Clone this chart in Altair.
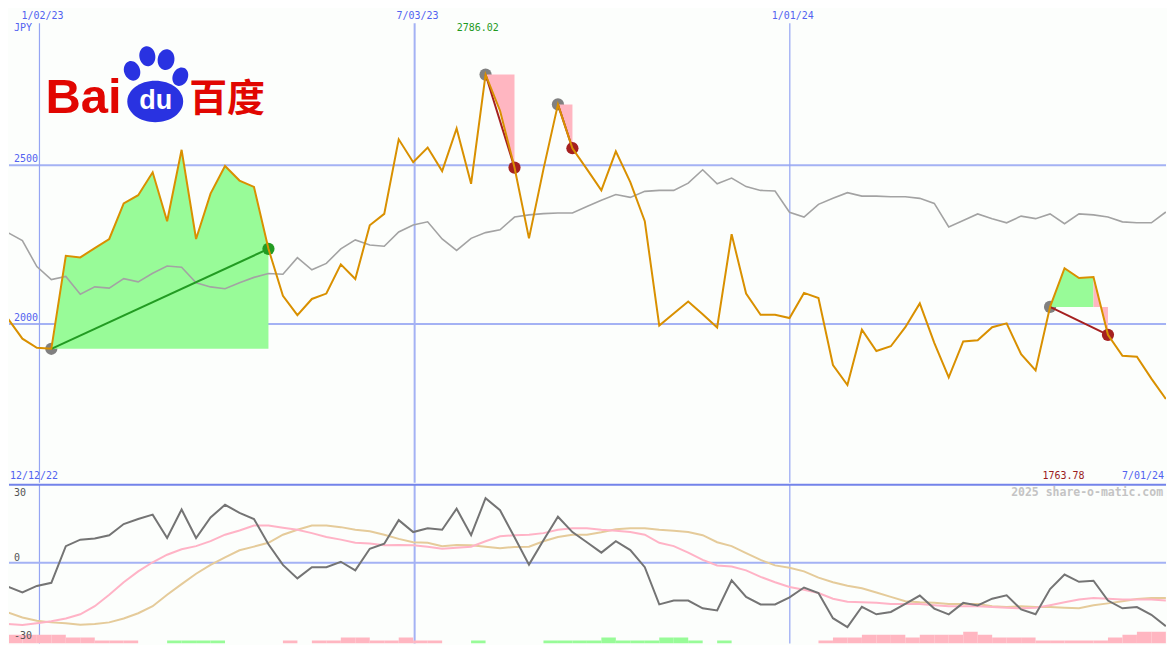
import altair as alt
import pandas as pd

# ---------------- values ----------------
PRICE = [2017, 1954, 1925, 1922, 2215, 2210, 2239, 2268, 2380, 2406,
         2478, 2324, 2549, 2268, 2411, 2498, 2452, 2432, 2237, 2089,
         2028, 2079, 2096, 2188, 2142, 2311, 2347, 2582, 2510, 2556,
         2482, 2616, 2442, 2786.02, 2672, 2493, 2270, 2488, 2692, 2554,
         2488, 2421, 2544, 2447, 2324, 1995, 2033, 2071, 2031, 1989,
         2283, 2096, 2029, 2029, 2019, 2098, 2082, 1871, 1808, 1982,
         1915, 1930, 1990, 2065, 1941, 1832, 1945, 1949, 1990, 2002,
         1905, 1854, 2054, 2176, 2145, 2148, 1966, 1900, 1897, 1828,
         1763.78]

COMPARE = [2288, 2263, 2181, 2140, 2150, 2094, 2117, 2113, 2143, 2133,
           2160, 2183, 2179, 2130, 2117, 2111, 2130, 2147, 2159, 2157,
           2209, 2171, 2191, 2237, 2265, 2249, 2245, 2290, 2312, 2322,
           2268, 2232, 2270, 2288, 2297, 2337, 2344, 2348, 2350, 2350,
           2370, 2390, 2408, 2399, 2418, 2421, 2421, 2444, 2486, 2442,
           2460, 2433, 2421, 2419, 2352, 2337, 2377, 2396, 2414, 2403,
           2403, 2401, 2401, 2396, 2380, 2306, 2326, 2347, 2332, 2319,
           2340, 2332, 2347, 2316, 2347, 2344, 2337, 2322, 2319, 2319,
           2353]

OSC = [-9.2, -11.4, -8.9, -7.7, 6.4, 8.9, 9.3, 10.6, 14.9, 16.8,
       18.5, 9.5, 20.5, 9.5, 17.4, 22.3, 19.2, 16.8, 7.1, -0.8,
       -6.0, -1.7, -1.7, 0.4, -2.9, 5.4, 7.3, 16.4, 11.8, 13.3,
       12.7, 20.8, 10.6, 24.8, 20.2, 9.8, -0.7, 8.7, 17.7, 11.8,
       7.9, 3.9, 8.3, 4.9, -1.7, -16.0, -14.5, -14.5, -17.5, -18.3,
       -6.7, -13.1, -16.0, -16.0, -13.3, -9.5, -11.6, -21.3, -24.7, -16.9,
       -19.8, -18.9, -15.8, -12.6, -17.6, -19.8, -15.4, -16.4, -13.8, -12.5,
       -17.9, -19.8, -10.1, -4.5, -7.3, -6.9, -14.5, -17.5, -17.0, -20.0,
       -24.4]

OSC_FAST = [-23.5, -23.9, -23.2, -22.5, -21.4, -19.8, -16.7, -12.3, -7.5, -3.3,
            0.2, 3.1, 5.2, 6.4, 8.3, 10.8, 12.4, 14.3, 14.3, 13.5,
            12.7, 11.4, 9.9, 8.9, 7.7, 7.4, 6.7, 6.8, 6.7, 6.2,
            5.4, 5.8, 6.2, 8.3, 10.2, 10.6, 10.8, 11.4, 12.7, 13.3,
            13.3, 12.7, 12.3, 11.8, 10.8, 7.7, 6.4, 3.9, 1.1, -1.0,
            -1.4, -2.9, -5.4, -7.5, -9.3, -10.4, -11.6, -13.8, -15.0, -15.2,
            -15.4, -15.8, -15.8, -15.8, -16.3, -16.7, -16.7, -16.7, -17.0, -17.3,
            -17.5, -17.3, -16.3, -15.2, -14.1, -13.5, -13.8, -14.1, -14.1, -14.1,
            -14.5]

OSC_SLOW = [-19.1, -21.0, -22.3, -22.9, -23.2, -23.8, -23.5, -22.9, -21.4, -19.4,
            -16.7, -12.3, -8.2, -4.2, -0.8, 2.1, 4.8, 6.2, 7.7, 10.8,
            12.7, 14.3, 14.3, 13.7, 12.7, 12.1, 10.8, 9.2, 7.9, 7.7,
            6.4, 6.8, 6.7, 6.2, 5.6, 6.1, 6.2, 8.3, 9.9, 10.8,
            10.8, 11.7, 12.9, 13.3, 13.3, 12.7, 12.3, 11.8, 10.6, 7.9,
            6.4, 3.7, 1.1, -1.0, -1.9, -3.3, -5.7, -7.5, -8.8, -9.8,
            -11.4, -13.1, -14.8, -15.2, -15.4, -15.8, -15.8, -15.8, -16.7, -17.0,
            -16.7, -17.0, -17.0, -17.3, -17.5, -16.3, -15.6, -14.8, -13.9, -13.5,
            -13.5]

SIGNAL = [-3, -3, -3, -3, -2, -2, -1, -1, -1, 0,
          0, 1, 1, 1, 1, 0, 0, 0, 0, -1,
          0, -1, -1, -2, -2, -1, -1, -2, -1, -1,
          0, 0, 1, 0, 0, 0, 0, 1, 1, 1,
          1, 2, 1, 1, 1, 2, 2, 1, 0, 1,
          0, 0, 0, 0, 0, 0, -1, -2, -2, -3,
          -3, -3, -2, -3, -3, -3, -4, -3, -2, -2,
          -2, -1, -1, -1, -1, -1, -2, -3, -4, -4]

TRADES = [(3, 18), (33, 35), (38, 39), (72, 76)]
GRID_WEEKS = [2.18, 28.1, 54.02]
GRID_LABELS = ["1/02/23", "7/03/23", "1/01/24"]
PRICE_TICKS = [2000, 2500]
OSC_TICKS = [30, 0, -30]
START_LABEL = "12/12/22"
END_LABEL = "7/01/24"
CURRENCY = "JPY"
WATERMARK = "2025 share-o-matic.com"
MAX_LABEL = "2786.02"
MIN_LABEL = "1763.78"

# ---------------- layout ----------------
W, H = 1159, 634
SX, SY = W / 1175.0, H / 650.0
TOP_H = round(487 * SY)
BOT_H = H - TOP_H
X_LO, X_HI = 0.075, 80.01
P_LO, P_HI = 1500.0, 2994.0
O_LO, O_HI = -31.0, 30.0
LEVEL_UNIT = 3 * (O_HI - O_LO) / 163.0


def p_at(y):
    return P_HI - y / 487.0 * (P_HI - P_LO)


def px(x):
    return x * SX


def py(y):
    return y * SY


BG = "#fcfefc"
GRID = "#a4b2f4"
GRID_THIN = "#95a5f3"
SEP = "#7383ea"
BLUE_TXT = "#5262f0"
ORANGE = "#d99000"
GREY_LINE = "#a3a3a3"
OSC_C = "#747474"
FAST_C = "#ffb3c6"
SLOW_C = "#e5cb9a"
GAIN_FILL = "#98fb98"
LOSS_FILL = "#ffb6c1"
GAIN_LINE = "#229b22"
LOSS_LINE = "#a52020"
START_DOT = "#808080"
MONO = "DejaVu Sans Mono"
BAIDU_RED = "#e10601"
BAIDU_BLUE = "#2932e1"

xs = alt.Scale(domain=[X_LO, X_HI], nice=False, zero=False)
ps = alt.Scale(domain=[P_LO, P_HI], nice=False, zero=False)
osc_s = alt.Scale(domain=[O_LO, O_HI], nice=False, zero=False)


def X(f):
    return alt.X(f, scale=xs, axis=None)


def XD(v):
    return alt.XDatum(v, scale=xs, axis=None)


def YP(f):
    return alt.Y(f, scale=ps, axis=None)


def YPD(v):
    return alt.YDatum(v, scale=ps, axis=None)


def YO(f):
    return alt.Y(f, scale=osc_s, axis=None)


def YOD(v):
    return alt.YDatum(v, scale=osc_s, axis=None)


# ---------------- tables ----------------
n = len(PRICE)
series = pd.DataFrame({"k": list(range(n)), "price": PRICE, "compare": COMPARE,
                       "osc": OSC, "fast": OSC_FAST, "slow": OSC_SLOW})

area_rows, tline_rows, start_rows, end_rows = [], [], [], []
seg = 0
for t, (s, e) in enumerate(TRADES):
    base = PRICE[s]
    win = PRICE[e] > base
    cur = None
    for j in range(s, e):
        c = GAIN_FILL if PRICE[j + 1] > base else LOSS_FILL
        if c != cur:
            seg += 1
            cur = c
            area_rows.append({"seg": seg, "k": j, "price": PRICE[j], "base": base, "c": c})
        area_rows.append({"seg": seg, "k": j + 1, "price": PRICE[j + 1], "base": base, "c": c})
    lc = GAIN_LINE if win else LOSS_LINE
    tline_rows += [{"trade": t, "k": s, "price": base, "c": lc},
                   {"trade": t, "k": e, "price": PRICE[e], "c": lc}]
    start_rows.append({"k": s, "price": base})
    end_rows.append({"k": e, "price": PRICE[e], "c": lc})
area_df = pd.DataFrame(area_rows)
tline_df = pd.DataFrame(tline_rows)
start_df = pd.DataFrame(start_rows)
end_df = pd.DataFrame(end_rows)

grid_df = pd.DataFrame({"k": GRID_WEEKS, "label": GRID_LABELS,
                        "thick": [i % 2 == 1 for i in range(len(GRID_WEEKS))]})

bar_df = pd.DataFrame({"k0": list(range(len(SIGNAL))),
                       "k1": [i + 1 for i in range(len(SIGNAL))],
                       "lvl": SIGNAL})
bar_df = bar_df[bar_df["lvl"] != 0].copy()
bar_df["lo"] = O_LO
bar_df["hi"] = O_LO + bar_df["lvl"].abs() * LEVEL_UNIT
bar_df["c"] = [GAIN_FILL if v > 0 else LOSS_FILL for v in bar_df["lvl"]]

one = pd.DataFrame({"_": [0]})
i_max = PRICE.index(max(PRICE))
i_min = PRICE.index(min(PRICE))

thick_w = alt.condition("datum.thick", alt.value(2), alt.value(1.2))
thick_c = alt.condition("datum.thick", alt.value(GRID), alt.value(GRID_THIN))

# ---------------- top panel ----------------
hgrid = alt.Chart(pd.DataFrame({"v": PRICE_TICKS})).mark_rule(
    color=GRID, strokeWidth=2).encode(y=YP("v:Q"))
vgrid_top = alt.Chart(grid_df).mark_rule().encode(
    x=X("k:Q"), y=YPD(p_at(15)), y2=alt.Y2Datum(P_LO), strokeWidth=thick_w, color=thick_c)
start_dots = alt.Chart(start_df).mark_circle(size=150, opacity=1, color=START_DOT).encode(
    x=X("k:Q"), y=YP("price:Q"))
areas = alt.Chart(area_df).mark_area(clip=True, opacity=1).encode(
    x=X("k:Q"), y=YP("price:Q"), y2=alt.Y2("base"), detail="seg:N",
    color=alt.Color("c:N", scale=None))
compare_line = alt.Chart(series).mark_line(color=GREY_LINE, strokeWidth=1.6, clip=True).encode(
    x=X("k:Q"), y=YP("compare:Q"))
trade_lines = alt.Chart(tline_df).mark_line(strokeWidth=2, clip=True).encode(
    x=X("k:Q"), y=YP("price:Q"), detail="trade:N", color=alt.Color("c:N", scale=None))
end_dots = alt.Chart(end_df).mark_circle(size=150, opacity=1).encode(
    x=X("k:Q"), y=YP("price:Q"), color=alt.Color("c:N", scale=None))
price_line = alt.Chart(series).mark_line(color=ORANGE, strokeWidth=2, clip=True).encode(
    x=X("k:Q"), y=YP("price:Q"))

txt = dict(font=MONO, fontSize=10, baseline="middle")
date_txt = alt.Chart(grid_df).mark_text(color=BLUE_TXT, dx=px(3), **txt).encode(
    x=X("k:Q"), y=YPD(p_at(8)), text="label:N")
cur_txt = alt.Chart(pd.DataFrame({"t": [CURRENCY]})).mark_text(
    color=BLUE_TXT, align="left", dx=px(5), **txt).encode(
    x=XD(X_LO), y=YPD(p_at(20)), text="t:N")
ptick_txt = alt.Chart(pd.DataFrame({"v": PRICE_TICKS, "t": [str(v) for v in PRICE_TICKS]})).mark_text(
    color=BLUE_TXT, align="left", dx=px(5), dy=-py(6), **txt).encode(
    x=XD(X_LO), y=YP("v:Q"), text="t:N")
max_txt = alt.Chart(pd.DataFrame({"k": [i_max], "t": [MAX_LABEL]})).mark_text(
    color="#1f9a1f", dx=-px(8), **txt).encode(x=X("k:Q"), y=YPD(p_at(20)), text="t:N")
min_txt = alt.Chart(pd.DataFrame({"k": [i_min], "t": [MIN_LABEL]})).mark_text(
    color="#9a1c1c", dx=-px(104), dy=-py(7), **txt).encode(x=X("k:Q"), y=YPD(P_LO), text="t:N")
start_txt = alt.Chart(pd.DataFrame({"t": [START_LABEL]})).mark_text(
    color=BLUE_TXT, align="left", dx=px(1), dy=-py(7), **txt).encode(
    x=XD(X_LO), y=YPD(P_LO), text="t:N")
end_txt = alt.Chart(pd.DataFrame({"t": [END_LABEL]})).mark_text(
    color=BLUE_TXT, align="right", dx=-px(2), dy=-py(7), **txt).encode(
    x=XD(X_HI), y=YPD(P_LO), text="t:N")

# ---- Baidu logo (decorative) ----
K = 0.5523


def ellipse_path(a, b):
    return (f"M0,{-b}C{K*a},{-b},{a},{-K*b},{a},0C{a},{K*b},{K*a},{b},0,{b}"
            f"C{-K*a},{b},{-a},{K*b},{-a},0C{-a},{-K*b},{-K*a},{-b},0,{-b}Z")


TOE = ellipse_path(0.8, 1.0)
PALM = ellipse_path(1.0, 0.74)
logo = []
for (cx, cy, s, ang) in [(125, 64, 20, 340), (140.5, 49, 20, 352), (159.5, 52.5, 21, 8), (174, 70, 19, 25)]:
    logo.append(alt.Chart(one).mark_point(shape=TOE, filled=True, opacity=1, color=BAIDU_BLUE,
                                          size=s * s, angle=ang, strokeWidth=0).encode(
        x=alt.value(px(cx)), y=alt.value(py(cy))))
logo.append(alt.Chart(one).mark_point(shape=PALM, filled=True, opacity=1, color=BAIDU_BLUE,
                                      size=56 * 56, strokeWidth=0).encode(
    x=alt.value(px(148.5)), y=alt.value(py(95.5))))
logo.append(alt.Chart(pd.DataFrame({"t": ["du"]})).mark_text(
    font="Liberation Sans", fontWeight="bold", fontSize=27, color="white", align="center",
    baseline="alphabetic").encode(x=alt.value(px(149)), y=alt.value(py(103)), text="t:N"))
logo.append(alt.Chart(pd.DataFrame({"t": ["Bai"]})).mark_text(
    font="Liberation Sans", fontWeight="bold", fontSize=49, color=BAIDU_RED, align="left",
    baseline="alphabetic").encode(x=alt.value(px(37)), y=alt.value(py(107)), text="t:N"))
logo.append(alt.Chart(pd.DataFrame({"t": ["百度"]})).mark_text(
    font="Noto Sans CJK SC", fontWeight="bold", fontSize=38, color=BAIDU_RED, align="left",
    baseline="alphabetic").encode(x=alt.value(px(183)), y=alt.value(py(105)), text="t:N"))

top = alt.layer(hgrid, vgrid_top, start_dots, areas, compare_line, trade_lines, end_dots,
                price_line, date_txt, cur_txt, ptick_txt, max_txt, min_txt, start_txt,
                end_txt, *logo).properties(width=W, height=TOP_H)

# ---------------- bottom panel ----------------
vgrid_bot = alt.Chart(grid_df).mark_rule().encode(
    x=X("k:Q"), strokeWidth=thick_w, color=thick_c)
zero_line = alt.Chart(pd.DataFrame({"v": [0]})).mark_rule(color=GRID, strokeWidth=2).encode(y=YO("v:Q"))
bars = alt.Chart(bar_df).mark_rect(clip=True).encode(
    x=X("k0:Q"), x2=alt.X2("k1"), y=YO("lo:Q"), y2=alt.Y2("hi"),
    color=alt.Color("c:N", scale=None))
slow_line = alt.Chart(series).mark_line(color=SLOW_C, strokeWidth=2, clip=True).encode(
    x=X("k:Q"), y=YO("slow:Q"))
fast_line = alt.Chart(series).mark_line(color=FAST_C, strokeWidth=2, clip=True).encode(
    x=X("k:Q"), y=YO("fast:Q"))
osc_line = alt.Chart(series).mark_line(color=OSC_C, strokeWidth=2, clip=True).encode(
    x=X("k:Q"), y=YO("osc:Q"))
sep = alt.Chart(pd.DataFrame({"v": [O_HI]})).mark_rule(color=SEP, strokeWidth=2).encode(y=YO("v:Q"))

otick_top = alt.Chart(pd.DataFrame({"v": [OSC_TICKS[0]], "t": [str(OSC_TICKS[0])]})).mark_text(
    color="#555555", align="left", dx=px(5), dy=py(9), **txt).encode(
    x=XD(X_LO), y=YO("v:Q"), text="t:N")
otick_rest = alt.Chart(pd.DataFrame({"v": OSC_TICKS[1:], "t": [str(v) for v in OSC_TICKS[1:]]})).mark_text(
    color="#555555", align="left", dx=px(5), dy=-py(5), **txt).encode(
    x=XD(X_LO), y=YO("v:Q"), text="t:N")
wm = alt.Chart(pd.DataFrame({"t": [WATERMARK]})).mark_text(
    font=MONO, fontSize=11.5, fontWeight="bold", color="#c4c4c4", align="right",
    baseline="middle", dx=-px(3), dy=py(9)).encode(x=XD(X_HI), y=YOD(O_HI), text="t:N")

bottom = alt.layer(vgrid_bot, zero_line, bars, slow_line, fast_line, osc_line, sep,
                   otick_top, otick_rest, wm).properties(width=W, height=BOT_H)

chart = alt.vconcat(top, bottom, spacing=0).properties(
    background=BG, padding=0).configure_view(stroke=None)

chart.save("out.html", embed_options={"renderer": "svg", "actions": False})
